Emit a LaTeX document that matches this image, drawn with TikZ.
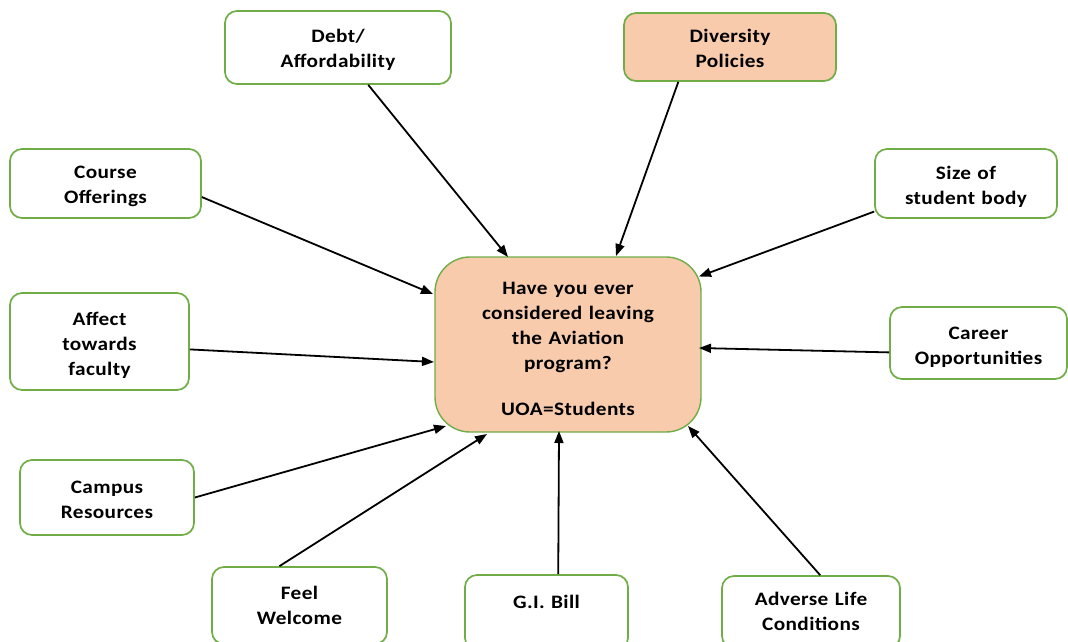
\documentclass[tikz,border=0pt]{standalone}
\usepackage{fontspec}
\setmainfont{Carlito}[FakeStretch=1.12,LetterSpace=2]
\usetikzlibrary{arrows.meta,calc}
\definecolor{Leaf}{HTML}{70AD47}
\definecolor{Peach}{HTML}{F8CBAD}
\definecolor{Ink}{HTML}{000000}
\tikzset{
  >={Triangle[length=12pt,width=9pt]},
  factor/.style={rectangle,rounded corners=12pt,draw=Leaf,line width=1.7pt,fill=white,align=center,inner sep=2pt,
    text width=150pt,text height=21pt,font=\bfseries\fontsize{19}{25}\selectfont},
  hot/.style={factor,fill=Peach},
  core/.style={hot,rounded corners=35pt,line width=1.4pt,text width=200pt},
  infl/.style={->,line width=1.8pt,draw=Ink}
}
\begin{document}
\begin{tikzpicture}[x=1pt,y=-1pt]
  \useasboundingbox (0,0) rectangle (1068,641);
  \clip (0,0) rectangle (1068,641);
  % centre question
  \node[core,minimum width=266,minimum height=175] (leave) at (568,344.5) {Have you ever\\considered leaving\\the Aviation\\program?\\[21pt]UOA=Students};
  % factors round it
  \node[factor,minimum width=226,minimum height=73,text height=17pt] (debt) at (338,47.5) {Debt/\\Affordability};
  \node[hot,minimum width=212,minimum height=68,text height=17pt] (divpol) at (730,47) {Diversity\\Policies};
  \node[factor,minimum width=191,minimum height=69,text height=19pt] (course) at (105.5,183.5) {Course\\Offerings};
  \node[factor,minimum width=182,minimum height=69,text height=19pt] (stusize) at (966,183.5) {Size of\\student body};
  \node[factor,minimum width=179,minimum height=97] (affect) at (99.5,341.5) {Affect\\towards\\faculty};
  \node[factor,minimum width=177,minimum height=72] (career) at (978.5,343) {Career\\Opportunities};
  \node[factor,minimum width=174,minimum height=75,text height=17pt] (campus) at (107,497.5) {Campus\\Resources};
  \node[factor,minimum width=175,minimum height=77,text height=13pt] (welcome) at (299.5,605.5) {Feel\\Welcome};
  \node[factor,minimum width=163,minimum height=75,text depth=29pt] (gibill) at (546.5,612.5) {G.I. Bill};
  \node[factor,minimum width=178,minimum height=72,text height=13pt] (adverse) at (811,612) {Adverse Life\\Conditions};
  % arrows into the question
  \draw[infl] (debt.-51) -- ($(leave)+(-60,-87.5)$);
  \draw[infl] (divpol.-146) -- ($(leave)+(48,-88.5)$);
  \draw[infl] (course.-8) -- ($(leave)+(-135,-50.5)$);
  \draw[infl] (stusize.-163) -- ($(leave)+(131,-68)$);
  \draw[infl] (affect.-5) -- ($(leave)+(-134,17.5)$);
  \draw[infl] (career.-174) -- ($(leave)+(131,3.5)$);
  \draw[infl] (campus.0) -- ($(leave)+(-122,81.5)$);
  \draw[infl] (welcome.117) -- ($(leave)+(-81,89.5)$);
  \draw[infl] (gibill.73) -- ($(leave)+(-9,86.5)$);
  \draw[infl] (adverse.76) -- ($(leave)+(120,81.5)$);
\end{tikzpicture}
\end{document}
